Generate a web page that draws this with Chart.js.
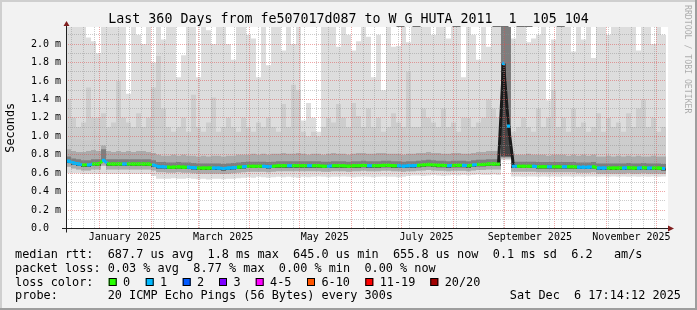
<!DOCTYPE html>
<html>
<head>
<meta charset="utf-8">
<title>Last 360 Days from fe507017d087 to W_G_HUTA_2011__1__105_104</title>
<script src="https://cdn.jsdelivr.net/npm/chart.js"></script>
<style>
  html, body { margin: 0; padding: 0; background: #f2f2f2; }
  #grafica { display: block; }
</style>
</head>
<body>
<canvas id="grafica" width="697" height="310"></canvas>
<script>
// ================= DATA =================
const titulo = 'Last 360 Days from fe507017d087 to W_G_HUTA_2011__1__105_104';
const endTime = new Date(2025, 11, 6, 17, 14, 12);
const spanDays = 360;

// x axis: month names shown in the middle of every second month
const xLabelText  = ['January 2025', 'March 2025', 'May 2025', 'July 2025', 'September 2025', 'November 2025'];
const xLabelMonth = [[2025, 0], [2025, 2], [2025, 4], [2025, 6], [2025, 8], [2025, 10]];

// y axis (milliseconds)
const yTicks      = [0.0, 0.1, 0.2, 0.3, 0.4, 0.5, 0.6, 0.7, 0.8, 0.9, 1.0, 1.1, 1.2, 1.3, 1.4, 1.5, 1.6, 1.7, 1.8, 1.9, 2.0, 2.1];
const yTickLabels = ['0.0  ', '', '0.2 m', '', '0.4 m', '', '0.6 m', '', '0.8 m', '', '1.0 m', '', '1.2 m', '', '1.4 m', '', '1.6 m', '', '1.8 m', '', '2.0 m', ''];

// 120 bins of 3 days each (ms)
const rttMedian = [
  0.73, 0.71, 0.70, 0.69, 0.69, 0.70, 0.70, 0.74, 0.70, 0.70,
  0.70, 0.70, 0.70, 0.70, 0.70, 0.70, 0.70, 0.69, 0.67, 0.67,
  0.665, 0.665, 0.67, 0.665, 0.665, 0.66, 0.655, 0.655, 0.655, 0.655,
  0.655, 0.65, 0.655, 0.66, 0.665, 0.67, 0.675, 0.675, 0.675, 0.675,
  0.67, 0.675, 0.68, 0.68, 0.68, 0.68, 0.68, 0.68, 0.68, 0.68,
  0.68, 0.675, 0.675, 0.68, 0.68, 0.68, 0.675, 0.68, 0.68, 0.685,
  0.68, 0.68, 0.68, 0.685, 0.685, 0.68, 0.68, 0.675, 0.68, 0.68,
  0.685, 0.69, 0.695, 0.69, 0.685, 0.685, 0.68, 0.685, 0.685, 0.685,
  0.68, 0.69, 0.695, 0.695, 0.70, 0.70, 0.70, 1.79, 1.11, 0.675,
  0.675, 0.675, 0.675, 0.675, 0.67, 0.67, 0.67, 0.67, 0.67, 0.67,
  0.67, 0.67, 0.665, 0.665, 0.665, 0.67, 0.655, 0.655, 0.655, 0.655,
  0.655, 0.655, 0.66, 0.655, 0.655, 0.66, 0.655, 0.655, 0.655, 0.65
];
const lossCount = [
  1, 1, 1, 0, 1, 0, 0, 1, 0, 0,
  0, 1, 0, 0, 0, 0, 0, 1, 1, 1,
  0, 0, 0, 0, 1, 1, 0, 0, 0, 1,
  1, 1, 1, 1, 0, 1, 0, 0, 0, 1,
  1, 0, 0, 0, 1, 0, 0, 0, 1, 0,
  0, 0, 1, 0, 0, 0, 0, 0, 0, 0,
  1, 0, 0, 0, 0, 0, 1, 1, 1, 1,
  0, 0, 0, 0, 0, 0, 1, 0, 0, 1,
  0, 1, 0, 0, 0, 0, 0, 1, 1, 1,
  0, 0, 0, 1, 0, 0, 1, 0, 0, 1,
  0, 0, 1, 1, 1, 0, 1, 1, 0, 0,
  0, 1, 0, 0, 1, 0, 1, 0, 0, 1
];
const pingMin = [
  0.60, 0.60, 0.60, 0.59, 0.59, 0.59, 0.59, 0.59, 0.59, 0.59,
  0.59, 0.59, 0.59, 0.59, 0.59, 0.59, 0.59, 0.57, 0.54, 0.54,
  0.54, 0.545, 0.54, 0.54, 0.545, 0.54, 0.535, 0.54, 0.53, 0.54,
  0.54, 0.535, 0.54, 0.54, 0.545, 0.55, 0.555, 0.55, 0.56, 0.555,
  0.55, 0.555, 0.56, 0.555, 0.56, 0.555, 0.55, 0.56, 0.555, 0.56,
  0.565, 0.56, 0.555, 0.56, 0.56, 0.565, 0.56, 0.555, 0.56, 0.565,
  0.56, 0.555, 0.56, 0.565, 0.56, 0.56, 0.555, 0.56, 0.57, 0.575,
  0.575, 0.57, 0.575, 0.58, 0.575, 0.57, 0.575, 0.58, 0.575, 0.58,
  0.575, 0.58, 0.585, 0.58, 0.58, 0.585, 0.58, 0.74, 0.74, 0.565,
  0.565, 0.56, 0.565, 0.565, 0.56, 0.565, 0.56, 0.565, 0.56, 0.565,
  0.565, 0.56, 0.565, 0.56, 0.565, 0.565, 0.56, 0.565, 0.56, 0.565,
  0.56, 0.565, 0.56, 0.565, 0.56, 0.565, 0.56, 0.565, 0.56, 0.565
];
const pingLow = [
  0.67, 0.65, 0.64, 0.63, 0.63, 0.64, 0.64, 0.68, 0.64, 0.64,
  0.64, 0.64, 0.64, 0.64, 0.64, 0.64, 0.64, 0.63, 0.61, 0.61,
  0.605, 0.605, 0.61, 0.605, 0.605, 0.60, 0.595, 0.595, 0.595, 0.595,
  0.595, 0.59, 0.595, 0.60, 0.605, 0.61, 0.615, 0.615, 0.615, 0.615,
  0.61, 0.615, 0.62, 0.62, 0.62, 0.62, 0.62, 0.62, 0.62, 0.62,
  0.62, 0.615, 0.615, 0.62, 0.62, 0.62, 0.615, 0.62, 0.62, 0.625,
  0.62, 0.62, 0.62, 0.625, 0.625, 0.62, 0.62, 0.615, 0.62, 0.62,
  0.625, 0.63, 0.635, 0.63, 0.625, 0.625, 0.62, 0.625, 0.625, 0.625,
  0.62, 0.63, 0.635, 0.635, 0.64, 0.64, 0.64, 0.76, 0.76, 0.615,
  0.615, 0.615, 0.615, 0.615, 0.61, 0.61, 0.61, 0.61, 0.61, 0.61,
  0.61, 0.61, 0.605, 0.605, 0.605, 0.61, 0.595, 0.595, 0.595, 0.595,
  0.595, 0.595, 0.60, 0.595, 0.595, 0.60, 0.595, 0.595, 0.595, 0.59
];
const pingQ1 = [
  0.71, 0.69, 0.68, 0.67, 0.67, 0.68, 0.68, 0.72, 0.68, 0.68,
  0.68, 0.68, 0.68, 0.68, 0.68, 0.68, 0.68, 0.67, 0.65, 0.65,
  0.645, 0.645, 0.65, 0.645, 0.645, 0.64, 0.635, 0.635, 0.635, 0.635,
  0.635, 0.63, 0.635, 0.64, 0.645, 0.65, 0.655, 0.655, 0.655, 0.655,
  0.65, 0.655, 0.66, 0.66, 0.66, 0.66, 0.66, 0.66, 0.66, 0.66,
  0.66, 0.655, 0.655, 0.66, 0.66, 0.66, 0.655, 0.66, 0.66, 0.665,
  0.66, 0.66, 0.66, 0.665, 0.665, 0.66, 0.66, 0.655, 0.66, 0.66,
  0.665, 0.67, 0.675, 0.67, 0.665, 0.665, 0.66, 0.665, 0.665, 0.665,
  0.66, 0.67, 0.675, 0.675, 0.68, 0.68, 0.68, 0.78, 0.78, 0.655,
  0.655, 0.655, 0.655, 0.655, 0.65, 0.65, 0.65, 0.65, 0.65, 0.65,
  0.65, 0.65, 0.645, 0.645, 0.645, 0.65, 0.635, 0.635, 0.635, 0.635,
  0.635, 0.635, 0.64, 0.635, 0.635, 0.64, 0.635, 0.635, 0.635, 0.63
];
const pingQ3 = [
  0.78, 0.76, 0.75, 0.74, 0.74, 0.75, 0.75, 0.86, 0.75, 0.75,
  0.75, 0.75, 0.75, 0.75, 0.75, 0.75, 0.75, 0.74, 0.72, 0.72,
  0.715, 0.715, 0.72, 0.715, 0.715, 0.71, 0.705, 0.705, 0.705, 0.705,
  0.705, 0.70, 0.705, 0.71, 0.715, 0.72, 0.725, 0.725, 0.725, 0.725,
  0.72, 0.725, 0.73, 0.73, 0.73, 0.73, 0.73, 0.73, 0.73, 0.73,
  0.73, 0.725, 0.725, 0.73, 0.73, 0.73, 0.725, 0.73, 0.73, 0.735,
  0.73, 0.73, 0.73, 0.735, 0.735, 0.73, 0.73, 0.725, 0.73, 0.73,
  0.735, 0.74, 0.745, 0.74, 0.735, 0.735, 0.73, 0.735, 0.735, 0.735,
  0.73, 0.74, 0.745, 0.745, 0.75, 0.75, 0.75, 2.3, 2.3, 0.725,
  0.725, 0.725, 0.725, 0.725, 0.72, 0.72, 0.72, 0.72, 0.72, 0.72,
  0.72, 0.72, 0.715, 0.715, 0.715, 0.72, 0.705, 0.705, 0.705, 0.705,
  0.705, 0.705, 0.71, 0.705, 0.705, 0.71, 0.705, 0.705, 0.705, 0.70
];
const pingHigh = [
  0.86, 0.84, 0.83, 0.83, 0.84, 0.85, 0.84, 0.90, 0.84, 0.83,
  0.84, 0.83, 0.84, 0.83, 0.84, 0.84, 0.83, 0.82, 0.80, 0.79,
  0.79, 0.80, 0.79, 0.80, 0.79, 0.79, 0.78, 0.79, 0.78, 0.79,
  0.79, 0.78, 0.79, 0.79, 0.80, 0.80, 0.80, 0.81, 0.80, 0.81,
  0.80, 0.81, 0.81, 0.82, 0.81, 0.81, 0.82, 0.81, 0.80, 0.81,
  0.81, 0.80, 0.81, 0.82, 0.81, 0.81, 0.80, 0.81, 0.82, 0.82,
  0.81, 0.81, 0.82, 0.82, 0.81, 0.81, 0.81, 0.80, 0.81, 0.81,
  0.82, 0.82, 0.83, 0.82, 0.82, 0.81, 0.81, 0.82, 0.82, 0.81,
  0.81, 0.82, 0.83, 0.83, 0.84, 0.84, 0.84, 2.3, 2.3, 0.80,
  0.80, 0.80, 0.81, 0.80, 0.80, 0.80, 0.79, 0.80, 0.80, 0.80,
  0.79, 0.80, 0.79, 0.80, 0.79, 0.80, 0.78, 0.78, 0.79, 0.78,
  0.79, 0.78, 0.79, 0.78, 0.79, 0.78, 0.78, 0.79, 0.78, 0.78
];
const pingUpper = [
  1.4, 1.2, 1.1, 1.15, 1.53, 1.2, 1.2, 1.25, 1.1, 1.15,
  1.6, 1.2, 1.15, 1.1, 1.25, 1.1, 1.2, 1.53, 1.87, 1.3,
  1.1, 1.05, 1.1, 1.2, 1.05, 1.45, 1.1, 1.05, 1.15, 1.42,
  1.05, 1.1, 1.2, 1.1, 1.05, 1.2, 1.1, 1.05, 1.15, 1.1,
  1.2, 1.1, 1.05, 1.35, 1.1, 1.56, 1.5, 1.05, 1.0, 1.05,
  1.0, 1.1, 1.2, 1.15, 1.35, 1.2, 1.1, 1.36, 1.22, 1.1,
  1.3, 1.1, 1.2, 1.05, 1.1, 1.25, 1.15, 1.1, 1.7, 1.1,
  1.1, 1.3, 1.2, 1.15, 1.1, 1.3, 1.1, 1.15, 1.05, 1.2,
  1.2, 1.1, 1.15, 1.2, 1.4, 1.3, 1.2, 2.3, 2.3, 1.05,
  1.1, 1.2, 1.1, 1.05, 1.3, 1.1, 1.2, 1.5, 1.1, 1.2,
  1.05, 1.3, 1.1, 1.15, 1.05, 1.1, 1.25, 1.05, 1.2, 1.1,
  1.15, 1.05, 1.25, 1.1, 1.3, 1.4, 1.1, 1.2, 1.05, 1.1
];
const pingMax = [
  2.3, 2.3, 2.3, 2.3, 2.07, 2.03, 1.9, 2.3, 2.3, 2.3,
  2.3, 2.3, 1.46, 2.3, 2.1, 2.0, 2.3, 1.8, 2.3, 2.05,
  2.3, 2.3, 1.64, 1.88, 2.3, 2.3, 1.64, 2.3, 2.15, 2.0,
  2.3, 2.3, 2.0, 1.83, 2.3, 2.3, 2.1, 2.06, 1.64, 2.3,
  1.77, 2.3, 2.3, 1.93, 2.3, 2.0, 2.3, 1.17, 1.36, 1.2,
  1.05, 2.3, 2.3, 2.3, 1.97, 2.3, 2.1, 1.93, 2.03, 2.3,
  2.08, 1.64, 2.1, 1.5, 2.3, 1.97, 1.98, 2.3, 2.02, 2.3,
  2.3, 2.3, 2.3, 2.1, 2.3, 2.3, 2.06, 2.3, 2.3, 1.64,
  2.3, 2.1, 1.83, 2.3, 1.97, 2.3, 2.3, 2.3, 2.3, 2.06,
  2.3, 2.3, 2.02, 2.06, 2.1, 2.3, 1.39, 2.05, 2.3, 2.3,
  2.3, 1.92, 2.3, 2.05, 2.3, 1.85, 2.3, 2.3, 2.1, 2.3,
  2.3, 2.3, 2.3, 2.3, 1.93, 2.3, 2.3, 2.0, 2.3, 2.1
];

// loss legend
const lossLabels = ['0', '1', '2', '3', '4-5', '6-10', '11-19', '20/20'];
const lossColors = ['#26ff00', '#00b8ff', '#0059ff', '#7e00ff', '#ff00ff', '#ff5500', '#ff0000', '#a10000'];

// ================= HELPERS =================
const DAY = 86400000;
const startTime = new Date(endTime.getTime() - spanDays * DAY);
const toDays = d => (d.getTime() - startTime.getTime()) / DAY;
const binDays = rttMedian.map((_, i) => 1.5 + 3 * i);   // bin centres

const lossIndex = n => n === 0 ? 0 : n === 1 ? 1 : n === 2 ? 2 : n === 3 ? 3 : n <= 5 ? 4 : n <= 10 ? 5 : n <= 19 ? 6 : 7;
const band = (lo, hi) => binDays.map((x, i) => ({ x, y: [lo[i], hi[i]] }));

function buildXTicks() {
    const list = [];
    const monthDays = [];
    const m = new Date(startTime.getFullYear(), startTime.getMonth() + 1, 1);
    for (; m < endTime; m.setMonth(m.getMonth() + 1)) monthDays.push(toDays(m));

    const w = new Date(startTime.getFullYear(), startTime.getMonth(), startTime.getDate() + 1);
    while (w.getDay() !== 0) w.setDate(w.getDate() + 1);
    for (; w < endTime; w.setDate(w.getDate() + 7)) {
        const d = toDays(w);
        if (!monthDays.some(md => Math.abs(md - d) < 0.05)) list.push({ value: d, kind: 'week', label: '' });
    }
    monthDays.forEach(d => list.push({ value: d, kind: 'month', label: '' }));
    xLabelMonth.forEach(([y, mo], i) => list.push({ value: toDays(new Date(y, mo, 16)), kind: 'label', label: xLabelText[i] }));
    return list.sort((a, b) => a.value - b.value);
}
const xTicks = buildXTicks();

const MONO = '"DejaVu Sans Mono", monospace';
const majorGrid = 'rgba(222, 79, 79, 0.5)';
const minorGrid = 'rgba(143, 143, 143, 0.45)';

// ================= FRAME, AXES AND LEGEND =================
const rrdFrame = {
    id: 'rrdFrame',
    beforeDraw(chart) {
        const { ctx, chartArea: a, width, height } = chart;
        ctx.save();
        ctx.fillStyle = '#f2f2f2';
        ctx.fillRect(0, 0, width, height);
        ctx.fillStyle = '#cfcfcf';
        ctx.fillRect(0, 0, width, 2);
        ctx.fillRect(0, 0, 2, height);
        ctx.fillStyle = '#9e9e9e';
        ctx.fillRect(0, height - 2, width, 2);
        ctx.fillRect(width - 2, 0, 2, height);
        ctx.fillStyle = '#ffffff';
        ctx.fillRect(a.left, a.top, a.right - a.left + 2, a.bottom - a.top);
        ctx.restore();
    },
    afterDraw(chart) {
        const { ctx, chartArea: a, width } = chart;
        const x0 = a.left + 0.5, y0 = a.bottom;
        ctx.save();

        // axes
        ctx.strokeStyle = '#1f1f1f';
        ctx.lineWidth = 1;
        ctx.beginPath();
        ctx.moveTo(a.left - 4, y0); ctx.lineTo(a.right + 3, y0);
        ctx.moveTo(x0, y0 + 4); ctx.lineTo(x0, a.top - 2);
        ctx.stroke();
        ctx.fillStyle = '#801f1f';
        ctx.beginPath();
        ctx.moveTo(a.right + 2, y0 - 3); ctx.lineTo(a.right + 8, y0); ctx.lineTo(a.right + 2, y0 + 3);
        ctx.closePath(); ctx.fill();
        ctx.beginPath();
        ctx.moveTo(x0 - 3, a.top - 1); ctx.lineTo(x0, a.top - 6); ctx.lineTo(x0 + 3, a.top - 1);
        ctx.closePath(); ctx.fill();

        // title
        ctx.fillStyle = '#000';
        ctx.font = `13.3px ${MONO}`;
        ctx.textAlign = 'center';
        ctx.textBaseline = 'alphabetic';
        ctx.fillText(titulo, width / 2, 23);

        // legend rows
        ctx.font = `11.85px ${MONO}`;
        ctx.textAlign = 'left';
        ctx.fillText('median rtt:  687.7 us avg  1.8 ms max  645.0 us min  655.8 us now  0.1 ms sd  6.2   am/s', 15, 258);
        ctx.fillText('packet loss: 0.03 % avg  8.77 % max  0.00 % min  0.00 % now', 15, 271.7);
        ctx.fillText('loss color:', 15, 285.5);
        const boxX = [108.7, 145.7, 182.7, 219, 255.7, 307, 365.3, 430.3];
        lossLabels.forEach((lab, i) => {
            ctx.fillStyle = lossColors[i];
            ctx.fillRect(boxX[i], 278, 8, 8);
            ctx.strokeStyle = '#000';
            ctx.strokeRect(boxX[i] + 0.5, 278.5, 7, 7);
            ctx.fillStyle = '#000';
            ctx.fillText(lab, boxX[i] + 14.4, 285.5);
        });
        ctx.fillText('probe:       20 ICMP Echo Pings (56 Bytes) every 300s', 15, 299);
        ctx.textAlign = 'right';
        ctx.fillText('Sat Dec  6 17:14:12 2025', 681, 299);

        // watermark
        ctx.translate(687.5, 5);
        ctx.rotate(Math.PI / 2);
        ctx.textAlign = 'left';
        ctx.textBaseline = 'middle';
        ctx.font = `8.2px ${MONO}`;
        ctx.fillStyle = 'rgba(0, 0, 0, 0.3)';
        ctx.fillText('RRDTOOL / TOBI OETIKER', 0, 0);
        ctx.restore();
    }
};

// ================= CHART =================
const smoke = (label, lo, hi, color, order) => ({
    type: 'bar',
    label,
    data: band(lo, hi),
    backgroundColor: color,
    borderWidth: 0,
    barThickness: 5,
    inflateAmount: 0,
    grouped: false,
    order
});

new Chart(document.getElementById('grafica'), {
    type: 'bar',
    data: {
        datasets: [
            {
                type: 'line',
                label: 'median rtt',
                data: binDays.map((x, i) => ({ x, y: rttMedian[i] })),
                borderWidth: 3,
                tension: 0,
                pointStyle: 'rect',
                pointRadius: 2.2,
                pointBorderWidth: 0,
                pointBackgroundColor: ctx => lossColors[lossIndex(lossCount[ctx.dataIndex])],
                segment: {
                    borderColor: ctx => Math.abs(ctx.p1.parsed.y - ctx.p0.parsed.y) > 0.2
                        ? '#1a1a1a'
                        : lossColors[lossIndex(lossCount[ctx.p0DataIndex])]
                },
                order: 0
            },
            smoke('smoke 5', pingQ1, rttMedian, '#454545', 1),
            smoke('smoke 4', pingQ1, pingQ3, '#7e7e7e', 2),
            smoke('smoke 3', pingLow, pingHigh, '#ababab', 3),
            smoke('smoke 2', pingLow, pingUpper, '#cdcdcd', 4),
            smoke('smoke 1', pingMin, pingMax, '#dddddd', 5)
        ]
    },
    options: {
        responsive: false,
        animation: false,
        devicePixelRatio: 1,
        events: [],
        layout: { padding: { left: 4, right: 31, top: 27, bottom: 0 } },
        plugins: {
            legend: { display: false },
            tooltip: { enabled: false },
            title: { display: false }
        },
        scales: {
            x: {
                type: 'linear',
                min: 0,
                max: spanDays,
                offset: false,
                afterBuildTicks: axis => { axis.ticks = xTicks.map(t => ({ value: t.value })); },
                afterFit: axis => { axis.height = 81.5; },
                grid: {
                    offset: false,
                    drawTicks: false,
                    z: 1,
                    color: ctx => {
                        const t = xTicks[ctx.index];
                        if (!t || t.kind === 'label') return 'rgba(0,0,0,0)';
                        return t.kind === 'month' ? majorGrid : minorGrid;
                    }
                },
                border: { display: false, dash: [1, 1] },
                ticks: {
                    autoSkip: false,
                    maxRotation: 0,
                    minRotation: 0,
                    padding: 3,
                    color: '#000',
                    font: { family: MONO, size: 10 },
                    callback: (v, i) => xTicks[i] ? xTicks[i].label : ''
                }
            },
            y: {
                min: 0,
                max: 2.185,
                afterBuildTicks: axis => { axis.ticks = yTicks.map(v => ({ value: v })); },
                afterFit: axis => { axis.width = 62; },
                grid: {
                    drawTicks: false,
                    z: 1,
                    color: ctx => yTickLabels[ctx.index] ? majorGrid : minorGrid
                },
                border: { display: false, dash: [1, 1] },
                ticks: {
                    autoSkip: false,
                    padding: 5,
                    color: '#000',
                    font: { family: MONO, size: 10 },
                    callback: (v, i) => yTickLabels[i]
                },
                title: {
                    display: true,
                    text: 'Seconds',
                    color: '#000',
                    padding: 0,
                    font: { family: MONO, size: 11.85 }
                }
            }
        }
    },
    plugins: [rrdFrame]
});
</script>
</body>
</html>
